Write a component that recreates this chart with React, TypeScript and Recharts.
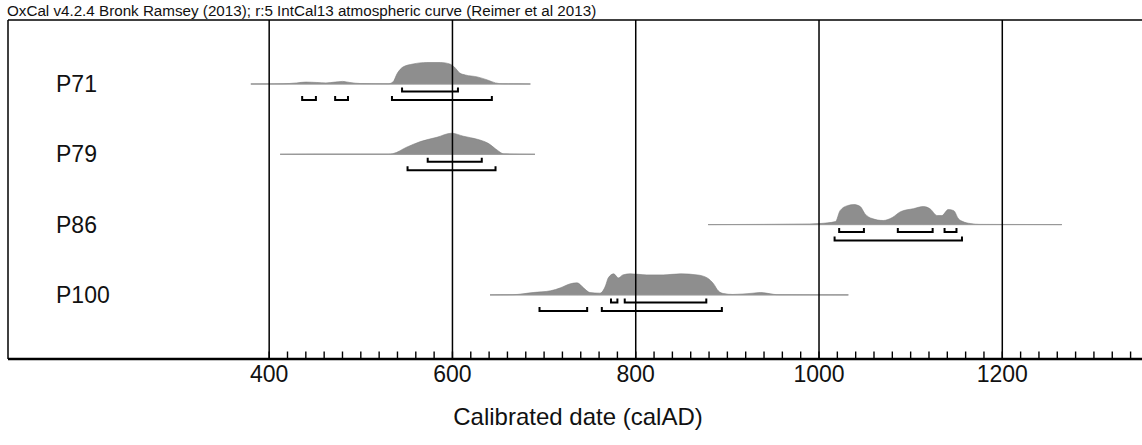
import React from 'react'
import { Area, ComposedChart, Line, ReferenceLine, XAxis, YAxis } from 'recharts'

// sample names, top to bottom
const samples = ['P71', 'P79', 'P86', 'P100']

// calibrated probability: [calAD, relative probability]
const p71Prob = [
  [380, 0], [415, 0.01], [430, 0.05], [440, 0.09], [452, 0.07], [462, 0.05],
  [472, 0.09], [480, 0.12], [488, 0.07], [500, 0.02], [530, 0.01], [535, 0.09],
  [540, 0.51], [546, 0.79], [557, 0.93], [572, 1], [587, 1], [597, 0.93],
  [602, 0.79], [608, 0.51], [614, 0.42], [627, 0.33], [638, 0.19], [647, 0.05],
  [655, 0.01], [685, 0],
]
const p79Prob = [
  [412, 0], [450, 0.01], [500, 0.01], [530, 0.01], [535, 0.03], [550, 0.33],
  [565, 0.59], [583, 0.79], [599, 0.98], [612, 0.84], [627, 0.7], [639, 0.51],
  [649, 0.19], [656, 0.02], [690, 0],
]
const p86Prob = [
  [879, 0], [990, 0.03], [1001, 0.05], [1018, 0.14], [1023, 0.65], [1031, 0.88],
  [1038, 0.93], [1045, 0.84], [1050, 0.51], [1058, 0.28], [1070, 0.19], [1080, 0.33],
  [1089, 0.6], [1103, 0.74], [1114, 0.84], [1121, 0.74], [1129, 0.42], [1134, 0.42],
  [1141, 0.7], [1147, 0.65], [1152, 0.28], [1157, 0.14], [1165, 0.05], [1176, 0.01],
  [1265, 0],
]
const p100Prob = [
  [641, 0], [666, 0.01], [688, 0.11], [707, 0.19], [718, 0.33], [728, 0.51],
  [736, 0.56], [743, 0.33], [750, 0.11], [761, 0.08], [767, 0.42], [770, 0.79],
  [776, 0.98], [781, 0.79], [786, 0.93], [794, 0.98], [812, 0.93], [830, 0.93],
  [849, 0.98], [867, 0.93], [878, 0.79], [885, 0.51], [890, 0.19], [896, 0.06],
  [906, 0.02], [928, 0.08], [936, 0.11], [947, 0.05], [954, 0.01], [1032, 0],
]
const probs = [p71Prob, p79Prob, p86Prob, p100Prob]

// extent of the thin baseline under each distribution
const spans = [[380, 685], [412, 690], [879, 1265], [641, 1032]]

// 68.2% and 95.4% ranges
const range68 = [
  [[545, 606]],
  [[573, 632]],
  [[1022, 1049], [1086, 1124], [1137, 1150]],
  [[773, 780], [788, 877]],
]
const range95 = [
  [[436, 451], [472, 486], [534, 643]],
  [[551, 647]],
  [[1017, 1156]],
  [[695, 747], [763, 894]],
]

const majorTicks = [400, 600, 800, 1000, 1200]
const minorTicks = Array.from({ length: 48 }, (_, i) => 400 + i * 20)

const X_MIN = 115
const X_MAX = 1359
const Y_MAX = 339
const PEAK = 21.5
const rowBase = (i: number) => 275 - i * 70.3

function bracket(s: number, e: number, y: number) {
  return [
    { year: s, y: y + 4 },
    { year: s, y },
    { year: e, y },
    { year: e, y: y + 4 },
  ]
}

const YearTick = ({ x, y, payload }: any) => (
  <text x={x} y={y + 14.5} dy="0.355em" textAnchor="middle" fontSize={23} fill="#111">
    {payload.value}
  </text>
)

export default function App() {
  return (
    <div
      style={{
        position: 'absolute',
        left: 0,
        top: 0,
        width: 1142,
        height: 445,
        overflow: 'hidden',
        background: '#fff',
        fontFamily: '"Liberation Sans", Arial, sans-serif',
      }}
    >
      <div
        style={{
          position: 'absolute',
          left: 7,
          top: 2,
          fontSize: 15.2,
          lineHeight: '17px',
          whiteSpace: 'nowrap',
          color: '#111',
        }}
      >
        OxCal v4.2.4 Bronk Ramsey (2013); r:5 IntCal13 atmospheric curve (Reimer et al 2013)
      </div>
      <ComposedChart width={1160} height={445} margin={{ top: 20, right: 12, bottom: 0, left: 8 }}>
        <XAxis
          type="number"
          dataKey="year"
          domain={[X_MIN, X_MAX]}
          ticks={majorTicks}
          interval={0}
          allowDataOverflow
          axisLine={{ stroke: '#000', strokeWidth: 2.5 }}
          tickLine={false}
          tickSize={0}
          tickMargin={0}
          height={86}
          tick={YearTick}
          label={{
            value: 'Calibrated date (calAD)',
            position: 'insideBottom',
            offset: 20,
            fontSize: 24,
            fill: '#111',
          }}
        />
        <YAxis type="number" domain={[0, Y_MAX]} width={0} hide allowDataOverflow />
        {minorTicks.map((t) => (
          <ReferenceLine
            key={'m' + t}
            segment={[
              { x: t, y: 0 },
              { x: t, y: 7.5 },
            ]}
            stroke="#000"
            strokeWidth={1.4}
          />
        ))}
        {probs.map((p, i) => (
          <Line
            key={'base' + i}
            data={[
              { year: spans[i][0], y: rowBase(i) },
              { year: spans[i][1], y: rowBase(i) },
            ]}
            dataKey="y"
            type="linear"
            stroke="#999"
            strokeWidth={1}
            dot={false}
            isAnimationActive={false}
          />
        ))}
        {probs.map((p, i) => (
          <Area
            key={'prob' + i}
            data={p.map(([year, v]) => ({ year, band: [rowBase(i), rowBase(i) + v * PEAK] }))}
            dataKey="band"
            type="monotone"
            fill="#8e8e8e"
            fillOpacity={1}
            stroke="#7c7c7c"
            strokeWidth={0.6}
            isAnimationActive={false}
          />
        ))}
        {range68.map((rs, i) =>
          rs.map(([s, e], j) => (
            <Line
              key={'r68' + i + '-' + j}
              data={bracket(s, e, rowBase(i) - 7.5)}
              dataKey="y"
              type="linear"
              stroke="#000"
              strokeWidth={2}
              dot={false}
              isAnimationActive={false}
            />
          ))
        )}
        {range95.map((rs, i) =>
          rs.map(([s, e], j) => (
            <Line
              key={'r95' + i + '-' + j}
              data={bracket(s, e, rowBase(i) - 16)}
              dataKey="y"
              type="linear"
              stroke="#000"
              strokeWidth={2}
              dot={false}
              isAnimationActive={false}
            />
          ))
        )}
        {samples.map((name, i) => (
          <ReferenceLine
            key={'lbl' + name}
            y={rowBase(i)}
            stroke="none"
            label={{ value: name, position: 'insideLeft', offset: 48, fontSize: 23, fill: '#111' }}
          />
        ))}
        {majorTicks.map((t) => (
          <ReferenceLine key={'g' + t} x={t} stroke="#000" strokeWidth={1.5} />
        ))}
        <ReferenceLine x={X_MIN} stroke="#000" strokeWidth={1.5} />
        <ReferenceLine y={Y_MAX} stroke="#000" strokeWidth={1.5} />
      </ComposedChart>
    </div>
  )
}
